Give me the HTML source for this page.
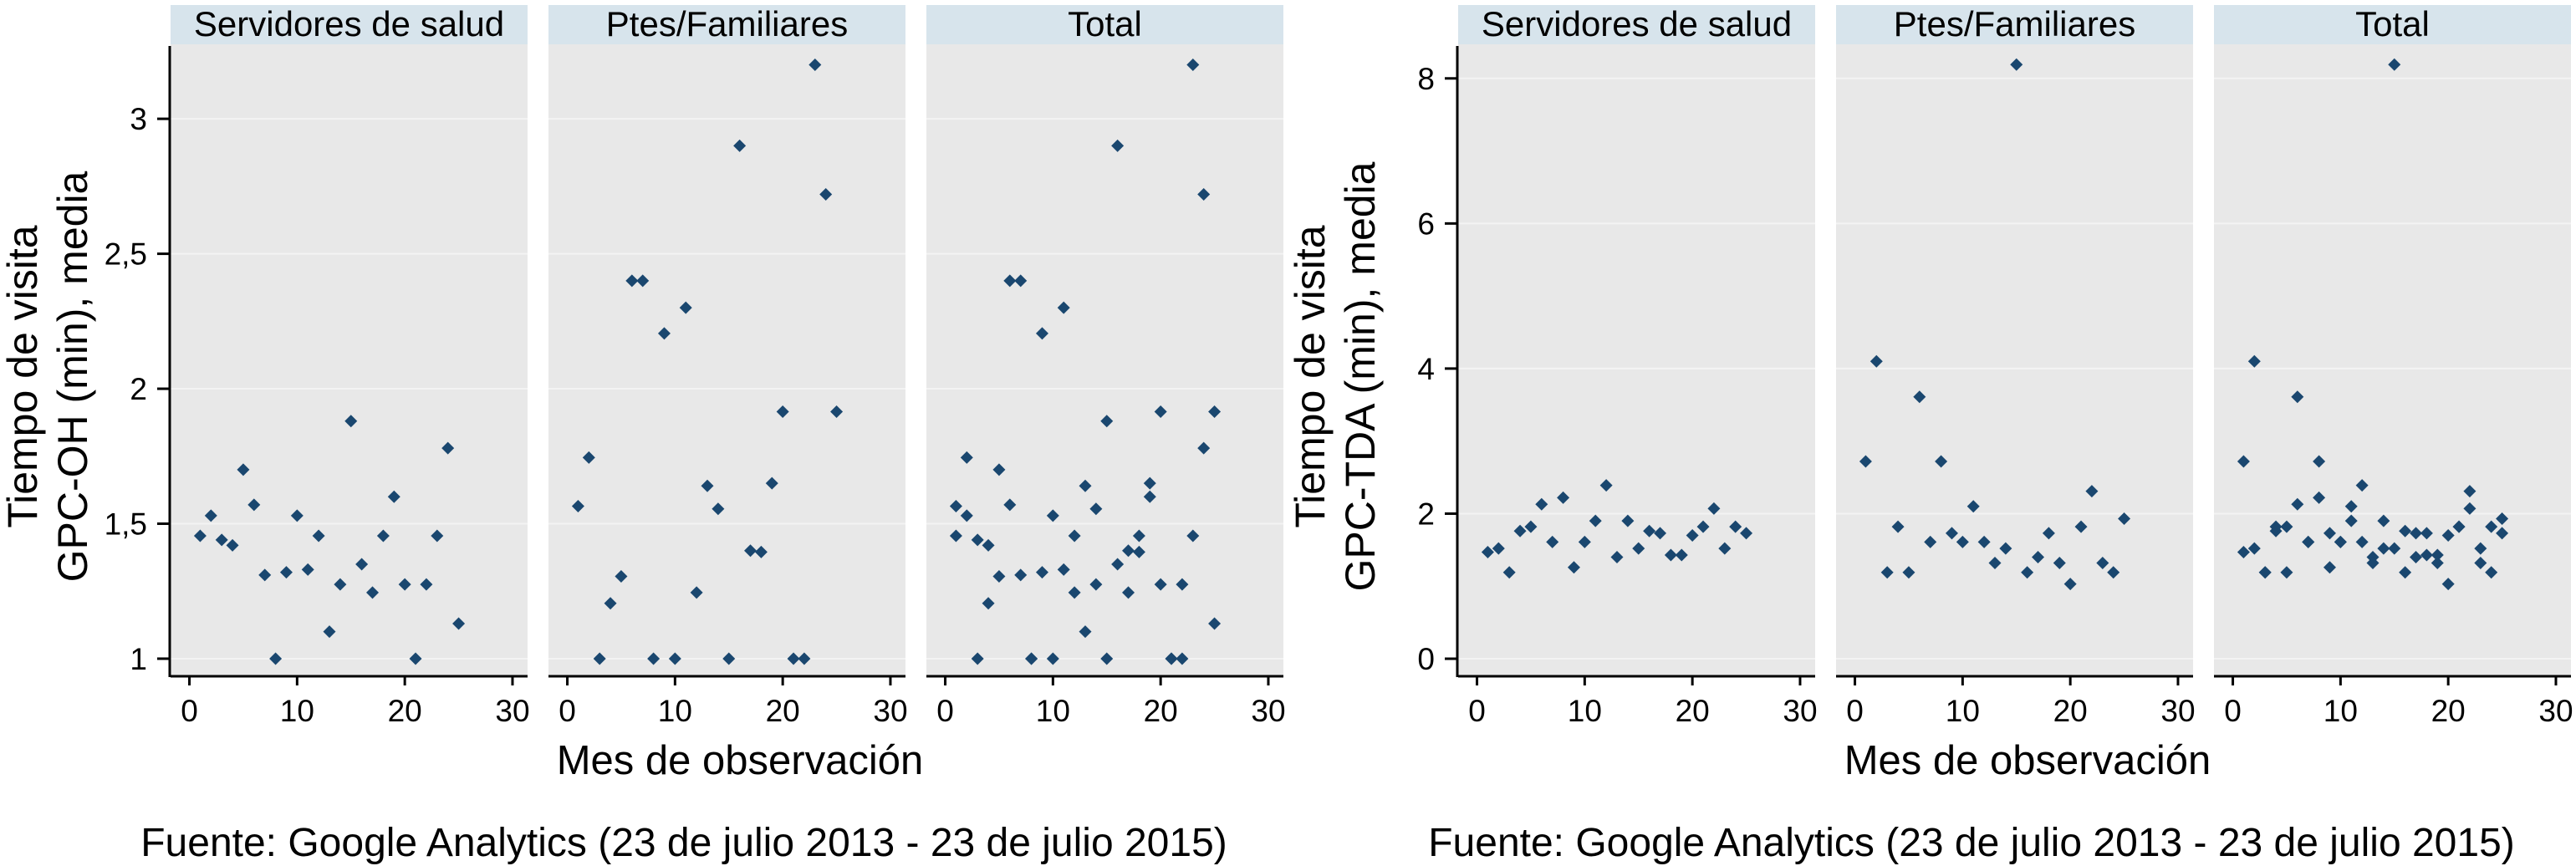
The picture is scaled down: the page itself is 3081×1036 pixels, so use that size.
<!DOCTYPE html>
<html><head><meta charset="utf-8"><style>
html,body{margin:0;padding:0;background:#fff}
svg{display:block}
text{font-family:"Liberation Sans",sans-serif;fill:#000}
</style></head><body>
<svg id="chart" width="3081" height="1036" viewBox="0 0 3081 1036" xmlns="http://www.w3.org/2000/svg"></svg>
<script>
const months = [1,2,3,4,5,6,7,8,9,10,11,12,13,14,15,16,17,18,19,20,21,22,23,24,25];
const ohServidores = [1.455,1.53,1.44,1.42,1.70,1.57,1.31,1.0,1.32,1.53,1.33,1.455,1.10,1.275,1.88,1.35,1.245,1.455,1.60,1.275,1.0,1.275,1.455,1.78,1.13];
const ohPtes = [1.565,1.745,1.0,1.205,1.305,2.40,2.40,1.0,2.205,1.0,2.30,1.245,1.64,1.555,1.0,2.90,1.40,1.395,1.65,1.915,1.0,1.0,3.20,2.72,1.915];
const tdaServidores = [1.47,1.52,1.19,1.76,1.82,2.13,1.61,2.22,1.26,1.61,1.90,2.39,1.40,1.90,1.52,1.76,1.73,1.43,1.43,1.70,1.82,2.07,1.52,1.82,1.73];
const tdaPtes = [2.72,4.10,1.19,1.82,1.19,3.61,1.61,2.72,1.73,1.61,2.10,1.61,1.32,1.52,8.19,1.19,1.40,1.73,1.32,1.03,1.82,2.31,1.32,1.19,1.93];
const xTicks = [0,10,20,30];
const ohTicks = [1,1.5,2,2.5,3];
const ohTickLabels = ["1","1,5","2","2,5","3"];
const tdaTicks = [0,2,4,6,8];
const tdaTickLabels = ["0","2","4","6","8"];
const panelTitles = ["Servidores de salud","Ptes/Familiares","Total"];

const NS = "http://www.w3.org/2000/svg";
const svg = document.getElementById('chart');
function el(tag, attrs, parent){const e=document.createElementNS(NS,tag);for(const k in attrs)e.setAttribute(k,attrs[k]);(parent||svg).appendChild(e);return e;}

function figure(ox, yMin, yMax, ticks, tickLabels, s1, s2, titleLine2, key){
  const g = el('g',{});
  
  
  const top=53, bottom=808, pw=427;
  const lefts=[ox+204, ox+656, ox+1108];
  const yS = v => bottom - (v-yMin)/(yMax-yMin)*(bottom-top);
  const xMin=-1.75, xMax=31.4;
  lefts.forEach((L,pi)=>{
    const xS = v => L + (v-xMin)/(xMax-xMin)*pw;
    const pg = el('g',{},g);
    
    
    const hd = el('rect',{x:L,y:6,width:pw,height:47,fill:'#d7e4ec'},pg);
    
    
    const ht = el('text',{x:L+pw/2,y:43,'font-size':42,'text-anchor':'middle'},pg);
    ht.textContent=panelTitles[pi];
    
    
    el('rect',{x:L,y:top,width:pw,height:bottom-top,fill:'#e8e8e8'},pg);
    ticks.forEach(t=>{ el('line',{x1:L,x2:L+pw,y1:yS(t),y2:yS(t),stroke:'#f3f3f3','stroke-width':2},pg); });
    el('line',{x1:L,x2:L+pw,y1:bottom+1,y2:bottom+1,stroke:'#000','stroke-width':3},pg);
    xTicks.forEach(t=>{
      el('line',{x1:xS(t),x2:xS(t),y1:bottom,y2:bottom+12,stroke:'#000','stroke-width':3},pg);
      const tl=el('text',{x:xS(t),y:863,'font-size':37,'text-anchor':'middle'},pg);
      tl.textContent=t;
      
      
    });
    const series = pi===0?[s1]:pi===1?[s2]:[s1,s2];
    series.forEach(arr=>{
      arr.forEach((v,i)=>{
        const cx=xS(months[i]), cy=yS(v), r=7.5;
        const p=el('path',{d:`M${cx},${cy-r}L${cx+r},${cy}L${cx},${cy+r}L${cx-r},${cy}Z`,fill:'#1a476f'},pg);
        
        
      });
    });
  });
  const L0=lefts[0];
  el('line',{x1:L0-1,x2:L0-1,y1:top+2,y2:bottom+2,stroke:'#000','stroke-width':3},g);
  ticks.forEach((t,i)=>{
    el('line',{x1:L0-16,x2:L0,y1:yS(t),y2:yS(t),stroke:'#000','stroke-width':3},g);
    const tl=el('text',{x:L0-28,y:yS(t)+13,'font-size':37,'text-anchor':'end'},g);
    tl.textContent=tickLabels[i];
    
    
  });
  const cy=(top+bottom)/2+20;
  const t1=el('text',{x:0,y:0,'font-size':50,'text-anchor':'middle',transform:`translate(${ox+44},${cy}) rotate(-90)`},g);
  t1.textContent='Tiempo de visita';
  
  
  const t2=el('text',{x:0,y:0,'font-size':50,'text-anchor':'middle',transform:`translate(${ox+104},${cy}) rotate(-90)`},g);
  t2.textContent=titleLine2;
  
  
  const xt=el('text',{x:ox+885,y:926,'font-size':49,'text-anchor':'middle'},g);
  xt.textContent='Mes de observación';
  
  
  const src=el('text',{x:ox+818,y:1024,'font-size':48,'text-anchor':'middle'},g);
  src.textContent='Fuente: Google Analytics (23 de julio 2013 - 23 de julio 2015)';
  
  
}
figure(0, 0.938, 3.276, ohTicks, ohTickLabels, ohServidores, ohPtes, 'GPC-OH (min), media', 'oh');
figure(1540, -0.23, 8.47, tdaTicks, tdaTickLabels, tdaServidores, tdaPtes, 'GPC-TDA (min), media', 'tda');
</script>
</body></html>
